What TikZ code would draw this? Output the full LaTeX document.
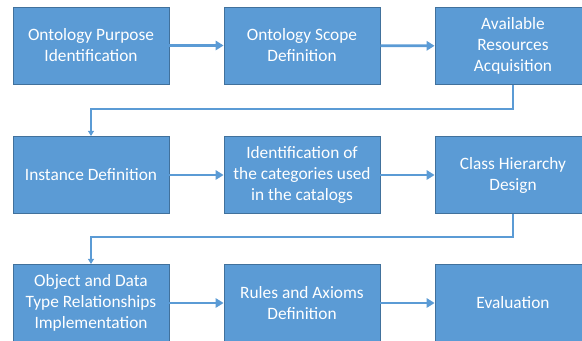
\documentclass[tikz,border=0pt]{standalone}
\usepackage{xcolor}
\usepackage{fontspec}
\setmainfont{Carlito}
\usepackage{tikz}
\usetikzlibrary{arrows.meta}
\definecolor{stepblue}{HTML}{5B9BD5}
\definecolor{stepedge}{HTML}{41719C}
\tikzset{
  stepbox/.style={draw=stepedge,fill=stepblue,text=white,line width=0.6pt,
    minimum width=117pt,minimum height=57.75pt,inner sep=0pt,align=center,
    font=\fontsize{13}{15.75}\selectfont},
  flow/.style={draw=stepblue,line width=2pt,-{Triangle[length=6pt,width=7pt]}},
  wrap/.style={draw=stepblue,line width=1.1pt,-{Triangle[length=4pt,width=4.5pt]}}
}
\begin{document}
\begin{tikzpicture}[x=0.75pt,y=-0.75pt]
\clip (0,0) rectangle (582,341);
  \node[stepbox] (purpose) at (91,45.5) {Ontology Purpose\\Identification};
  \node[stepbox] (scope) at (302,45.5) {Ontology Scope\\Definition};
  \node[stepbox] (resources) at (513,46) {Available\\Resources\\Acquisition};
  \node[stepbox] (instance) at (91,175) {Instance Definition};
  \node[stepbox] (categories) at (302,175) {Identification of\\the categories used\\in the catalogs};
  \node[stepbox] (hierarchy) at (513,175) {Class Hierarchy\\Design};
  \node[stepbox] (relations) at (91,303) {Object and Data\\Type Relationships\\Implementation};
  \node[stepbox] (rules) at (302,303) {Rules and Axioms\\Definition};
  \node[stepbox] (evaluation) at (513,303) {Evaluation};
  \draw[flow] (purpose) -- (scope);
  \draw[flow] (scope) -- (resources);
  \draw[flow] (instance) -- (categories);
  \draw[flow] (categories) -- (hierarchy);
  \draw[flow] (relations) -- (rules);
  \draw[flow] (rules) -- (evaluation);
  \draw[wrap] (resources.south) -- ++(0,24) -| (instance.north);
  \draw[wrap] (hierarchy.south) -- ++(0,23) -| (relations.north);
\end{tikzpicture}
\end{document}
